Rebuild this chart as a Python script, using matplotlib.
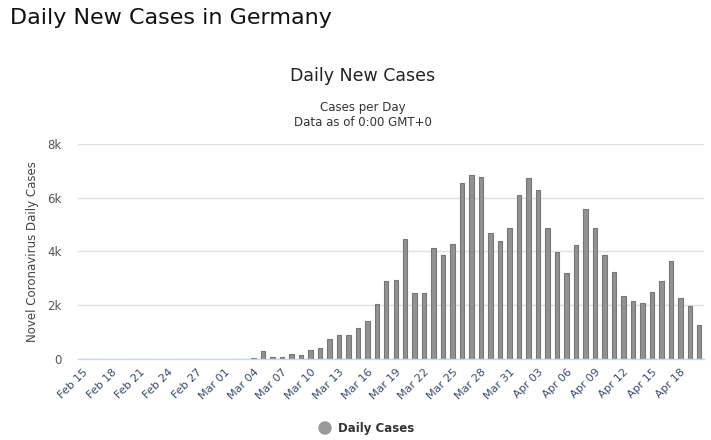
import matplotlib
matplotlib.use("Agg")
import matplotlib.pyplot as plt
import numpy as np
import datetime as dt

# ---- data ----
start = dt.date(2020, 2, 15)
dates = [start + dt.timedelta(days=i) for i in range(66)]
categories = [d.strftime("%b %d") for d in dates]

daily_cases = [
    # Feb 15 - Feb 29
    0, 0, 0, 0, 0, 0, 0, 0, 0, 0, 0, 0, 0, 0, 0,
    # Mar 1 - Mar 31
    0, 0, 0, 50, 280, 90, 90, 200, 160, 320, 395, 756, 905, 905, 1165,
    1427, 2055, 2906, 2943, 4471, 2459, 2459, 4136, 3875, 4285, 6557,
    6855, 6780, 4694, 4396, 4881,
    # Apr 1 - Apr 20
    6110, 6743, 6296, 4881, 3987, 3204, 4247, 5589, 4881, 3875,
    3241, 2347, 2161, 2087, 2496, 2906, 3651, 2273, 1975, 1267,
]

y_ticks = [0, 2000, 4000, 6000, 8000]
y_tick_labels = ["0", "2k", "4k", "6k", "8k"]
tick_step = 3

W, H = 711, 440
plt.rcParams['font.family'] = ['DejaVu Sans']
fig = plt.figure(figsize=(W / 100, H / 100), dpi=100)

# axes placement in pixels
left, right, top, bottom = 78, 704, 144, 359
ax = fig.add_axes([left / W, 1 - bottom / H, (right - left) / W, (bottom - top) / H])

x = np.arange(len(daily_cases))
ax.bar(x, daily_cases, width=0.47, color="#929292", edgecolor="#767676", linewidth=0.8, zorder=3)

ax.set_xlim(-0.5, len(daily_cases) - 0.5)
ax.set_ylim(0, 8000)
ax.set_yticks(y_ticks)
ax.set_yticklabels(y_tick_labels, color="#555555", fontsize=8.5)
ax.grid(axis="y", color="#e0e0e0", linewidth=1, zorder=0)
ax.tick_params(axis="y", length=0, pad=12)

tick_pos = x[::tick_step]
ax.set_xticks(tick_pos)
ax.set_xticklabels([categories[i] for i in tick_pos], rotation=45, ha="right",
                   rotation_mode="anchor", fontsize=8, color="#3a4a6a")
ax.tick_params(axis="x", length=0, pad=6)

for s in ["top", "right", "left"]:
    ax.spines[s].set_visible(False)
ax.spines["bottom"].set_color("#ccd6eb")
ax.spines["bottom"].set_linewidth(1)
ax.spines["bottom"].set_zorder(4)

# y axis title
fig.text(33 / W, 1 - 252 / H, "Novel Coronavirus Daily Cases", fontsize=8.5, color="#444444",
         rotation=90, ha="center", va="center")

# titles
fig.text(10 / W, 1 - 18 / H, "Daily New Cases in Germany", fontsize=16, color="#111111",
         ha="left", va="center")
fig.text(363 / W, 1 - 76 / H, "Daily New Cases", fontsize=12.5, color="#222222",
         ha="center", va="center")
fig.text(363 / W, 1 - 107 / H, "Cases per Day", fontsize=8.5, color="#333333",
         ha="center", va="center")
fig.text(363 / W, 1 - 122 / H, "Data as of 0:00 GMT+0", fontsize=8.5, color="#333333",
         ha="center", va="center")

# legend
fig.patches.append(matplotlib.patches.Ellipse((325 / W, 1 - 428 / H), 12 / W, 12 / H,
                                              transform=fig.transFigure, color="#999999"))
fig.text(338 / W, 1 - 428 / H, "Daily Cases", fontsize=8.5, fontweight="bold",
         color="#333333", ha="left", va="center")

fig.savefig("out.png", dpi=100)
